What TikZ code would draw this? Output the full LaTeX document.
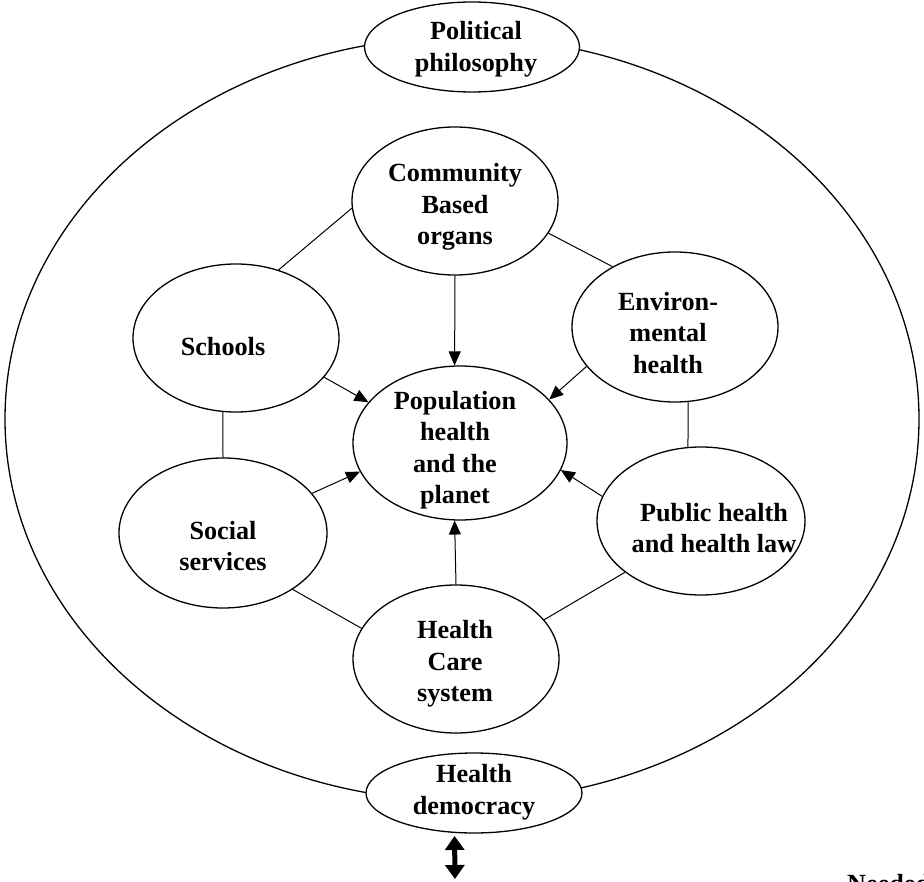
\documentclass[tikz,border=0pt]{standalone}
\usepackage{fontspec}
\setmainfont{Liberation Serif}
\usetikzlibrary{shapes.geometric,arrows.meta}
\begin{document}
\begin{tikzpicture}[x=1pt,y=-1pt,
  oval/.style={ellipse, draw, line width=1.3pt, inner sep=0pt, fill=white},
  txt/.style={align=center, font=\fontsize{26.2}{31.5}\selectfont\bfseries, inner sep=0pt},
  link/.style={line width=1pt},
  flow/.style={line width=1pt, -{Triangle[length=14pt,width=12pt]}},
  bothway/.style={line width=5pt, {Triangle[length=14pt,width=19pt]}-{Triangle[length=14pt,width=19pt]}}]
\useasboundingbox (0,0) rectangle (924,882);
% outer frame
\draw[line width=1.3pt] (462,419) ellipse [x radius=457, y radius=382];
% ellipses
\node[oval, minimum width=215pt, minimum height=90pt]  (pol)    at (472,47)  {};
\node[oval, minimum width=206pt, minimum height=148pt] (comm)   at (455,201) {};
\node[oval, minimum width=206pt, minimum height=148pt] (school) at (236,338) {};
\node[oval, minimum width=206pt, minimum height=150pt] (env)    at (675,327) {};
\node[oval, minimum width=214pt, minimum height=154pt] (pop)    at (460,443) {};
\node[oval, minimum width=208pt, minimum height=150pt] (social) at (223,533) {};
\node[oval, minimum width=208pt, minimum height=148pt] (public) at (701,521) {};
\node[oval, minimum width=206pt, minimum height=148pt] (care)   at (456,659) {};
\node[oval, minimum width=216pt, minimum height=80pt]  (dem)    at (474,793) {};
% texts
\node[txt] (polT)    at (476,49)  {Political\\philosophy};
\node[txt] (commT)   at (455,207) {Community\\Based\\organs};
\node[txt] (schoolT) at (223,347) {Schools};
\node[txt] (envT)    at (668,333) {Environ-\\mental\\health};
\node[txt] (popT)    at (455,450) {Population\\health\\and the\\planet};
\node[txt] (socialT) at (223,546) {Social\\services};
\node[txt] (publicT) at (714,528) {Public health\\and health law};
\node[txt] (careT)   at (455,664) {Health\\Care\\system};
\node[txt] (demT)    at (474,792) {Health\\democracy};
\node[txt, anchor=base west] (need) at (847,892) {Needed};
% plain links
\draw[link] (comm.184) -- (school.58);
\draw[link] (comm.341) -- (env.136);
\draw[link] (school.260) -- (social.north);
\draw[link] (env.280) -- (public.100);
\draw[link] (social.321) -- (care.162);
\draw[link] (public.214) -- (care.24);
% arrows into the centre
\draw[flow] (comm.south) -- (pop.94);
\draw[flow] (care.north) -- (pop.266);
\draw[flow] (school.336) -- (pop.156);
\draw[flow] (env.204) -- (pop.26);
\draw[flow] (social.24) -- (pop.196);
\draw[flow] (public.166) -- (pop.345);
% double arrow below
\coordinate (down) at (455,879);
\draw[bothway, shorten <=3pt] (dem.244) -- (down);
\end{tikzpicture}
\end{document}
